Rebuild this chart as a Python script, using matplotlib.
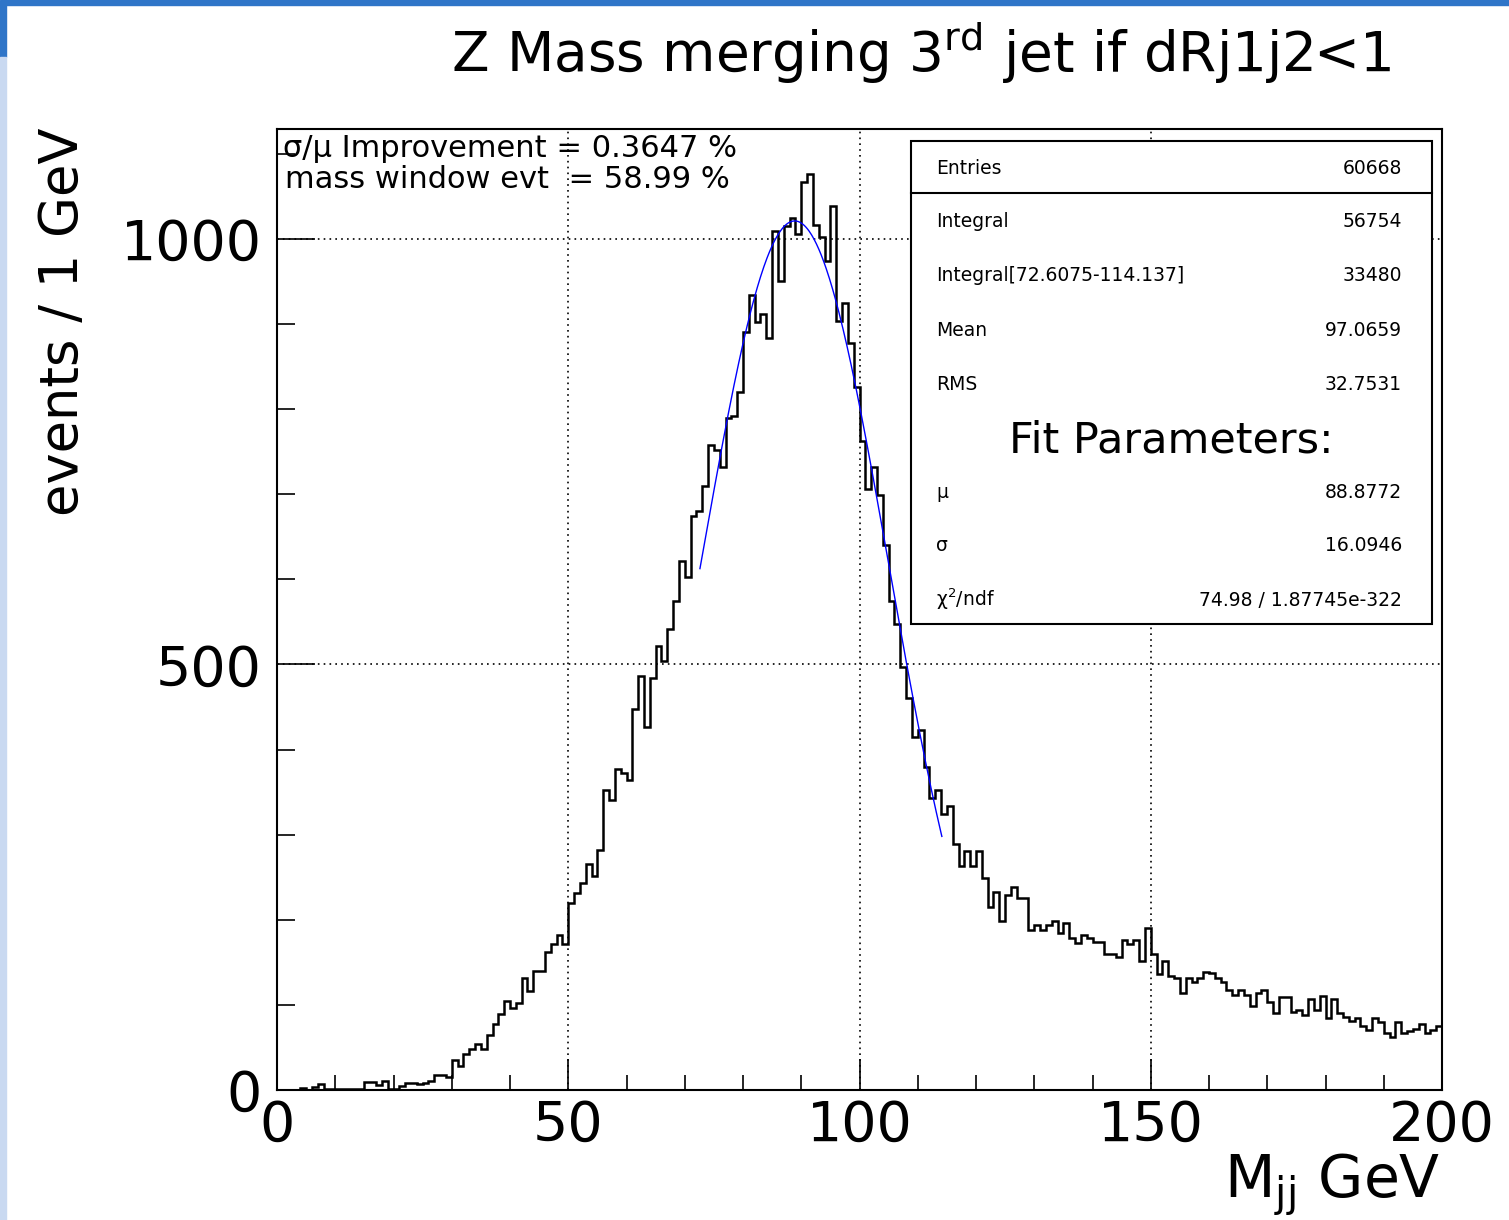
import matplotlib
matplotlib.use("Agg")
import matplotlib.pyplot as plt
import matplotlib.patches as mpatches
from matplotlib.ticker import MultipleLocator
import numpy as np


# histogram contents, 1 GeV bins from 0 to 200
bin_edges = list(range(0, 201))
counts = [
    0, 0, 0, 0, 2, 0, 4, 7, 1, 1,
    1, 1, 1, 1, 1, 9, 9, 6, 11, 1,
    1, 5, 8, 8, 7, 8, 11, 18, 18, 15,
    35, 28, 42, 48, 54, 48, 65, 78, 89, 104,
    96, 102, 132, 116, 140, 140, 162, 172, 182, 172,
    220, 231, 243, 266, 251, 282, 352, 341, 377, 373,
    364, 448, 486, 426, 484, 522, 504, 542, 575, 621,
    603, 674, 680, 710, 758, 752, 732, 789, 792, 820,
    891, 934, 902, 912, 883, 1009, 950, 1015, 1025, 1006,
    1067, 1076, 1016, 1002, 974, 1039, 904, 924, 878, 826,
    762, 706, 732, 699, 640, 575, 548, 497, 461, 415,
    423, 380, 343, 352, 324, 334, 289, 263, 281, 263,
    281, 249, 215, 233, 198, 229, 239, 226, 226, 188,
    194, 188, 194, 198, 184, 196, 178, 173, 182, 179,
    174, 174, 160, 160, 156, 176, 172, 176, 151, 190,
    160, 136, 152, 134, 131, 114, 131, 127, 131, 139,
    137, 132, 127, 117, 112, 117, 112, 99, 114, 117,
    103, 91, 109, 109, 92, 94, 88, 107, 94, 111,
    84, 107, 91, 86, 81, 85, 75, 70, 85, 80,
    67, 62, 80, 67, 69, 72, 78, 67, 71, 75,
]

# gaussian fit (parameters from the stat box, amplitude)
fit_amp = 1021
fit_mu = 88.8772
fit_sigma = 16.0946
fit_lo = 72.6075
fit_hi = 114.137

stat_names = ["Entries", "Integral", "Integral[72.6075-114.137]", "Mean", "RMS"]
stat_values = ["60668", "56754", "33480", "97.0659", "32.7531"]
fit_names = ["\u03bc", "\u03c3", "\u03c7$^2$/ndf"]
fit_values = ["88.8772", "16.0946", "74.98 / 1.87745e-322"]

W, H = 1509, 1220


def fx(px):
    return px / W


def fy(py):
    return 1 - py / H


fig = plt.figure(figsize=(W / 100, H / 100), dpi=100)
fig.patch.set_facecolor("white")

# blue window border of the screenshot
fig.patches.append(mpatches.Rectangle((0, fy(5)), 1, 5 / H, transform=fig.transFigure,
                                      color="#2f75c8", zorder=0))
fig.patches.append(mpatches.Rectangle((0, fy(57)), 6 / W, 52 / H, transform=fig.transFigure,
                                      color="#2f75c8", zorder=0))
fig.patches.append(mpatches.Rectangle((0, 0), 6 / W, fy(57), transform=fig.transFigure,
                                      color="#c9d9f1", zorder=0))

ax = fig.add_axes([fx(277), fy(1090), (1442 - 277) / W, (1090 - 129) / H])

# histogram
ax.stairs(counts, bin_edges, color="black", linewidth=1.8, zorder=3)

# fit curve
xf = np.linspace(fit_lo, fit_hi, 300)
yf = fit_amp * np.exp(-0.5 * ((xf - fit_mu) / fit_sigma) ** 2)
ax.plot(xf, yf, color="#0000ff", linewidth=1.0, zorder=4)

ax.set_xlim(0, 200)
ax.set_ylim(0, 1129)

ax.xaxis.set_major_locator(MultipleLocator(50))
ax.xaxis.set_minor_locator(MultipleLocator(10))
ax.yaxis.set_major_locator(MultipleLocator(500))
ax.yaxis.set_minor_locator(MultipleLocator(100))

ax.tick_params(axis="both", which="both", direction="in", top=False, right=False,
               width=1.2, labelsize=40)
ax.tick_params(axis="x", which="major", length=22, pad=6)
ax.tick_params(axis="x", which="minor", length=11)
ax.tick_params(axis="y", which="major", length=27, pad=11)
ax.tick_params(axis="y", which="minor", length=13)

ax.grid(True, which="major", color="black", linestyle=(0, (1, 2.5)), linewidth=1.2)
ax.set_axisbelow(False)

for s in ax.spines.values():
    s.set_linewidth(1.5)

# titles and axis labels
fig.text(fx(921), fy(72), "Z Mass merging 3$^{\\mathregular{rd}}$ jet if dRj1j2<1",
         ha="center", va="baseline", fontsize=39.5)
fig.text(fx(63), fy(322), "events / 1 GeV", rotation=90, ha="center", va="center",
         fontsize=38)
fig.text(fx(1440), fy(1198), "M$_{\\mathregular{jj}}$ GeV", ha="right", va="baseline",
         fontsize=42)

# info text top left
fig.text(fx(283), fy(157), "\u03c3/\u03bc Improvement = 0.3647 %", ha="left",
         va="baseline", fontsize=22)
fig.text(fx(285), fy(188), "mass window evt  = 58.99 %", ha="left",
         va="baseline", fontsize=22)

# stat box
box = mpatches.Rectangle((fx(911), fy(624)), (1432 - 911) / W, (624 - 141) / H,
                         transform=fig.transFigure, facecolor="white", edgecolor="black",
                         linewidth=1.5, zorder=5)
fig.patches.append(box)
fig.lines.append(plt.Line2D([fx(911), fx(1432)], [fy(193), fy(193)],
                            transform=fig.transFigure, color="black", linewidth=1.5,
                            zorder=6))

row_y = [168, 221, 275, 330, 384]
for name, val, y in zip(stat_names, stat_values, row_y):
    fig.text(fx(936), fy(y + 6), name, ha="left", va="baseline", fontsize=13.5, zorder=7)
    fig.text(fx(1402), fy(y + 6), val, ha="right", va="baseline", fontsize=13.5, zorder=7)

fig.text(fx(1171), fy(452), "Fit Parameters:", ha="center", va="baseline", fontsize=31,
         zorder=7)

fit_y = [492, 545, 600]
for name, val, y in zip(fit_names, fit_values, fit_y):
    fig.text(fx(936), fy(y + 6), name, ha="left", va="baseline", fontsize=13.5, zorder=7)
    fig.text(fx(1402), fy(y + 6), val, ha="right", va="baseline", fontsize=13.5, zorder=7)

plt.savefig("out.png", dpi=100)
